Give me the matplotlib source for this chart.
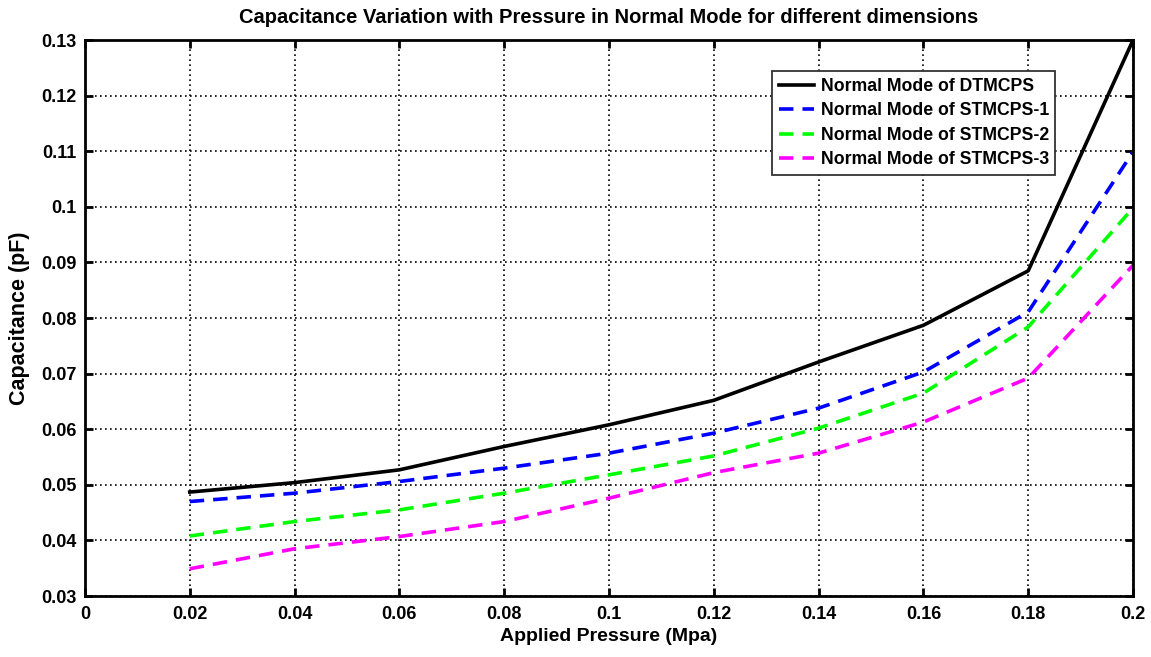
import matplotlib
matplotlib.use("Agg")
import matplotlib.pyplot as plt

plt.rcParams["font.family"] = ["Liberation Sans", "DejaVu Sans"]
plt.rcParams["font.weight"] = "bold"

pressure = [0.02, 0.04, 0.06, 0.08, 0.10, 0.12, 0.14, 0.16, 0.18, 0.20]
dtmcps = [0.0487, 0.0504, 0.0527, 0.0569, 0.0608, 0.0652, 0.0721, 0.0787, 0.0885, 0.1300]
stmcps1 = [0.0470, 0.0485, 0.0506, 0.0530, 0.0557, 0.0593, 0.0638, 0.0703, 0.0811, 0.1099]
stmcps2 = [0.0408, 0.0434, 0.0455, 0.0485, 0.0518, 0.0552, 0.0602, 0.0665, 0.0784, 0.0998]
stmcps3 = [0.0349, 0.0385, 0.0407, 0.0434, 0.0476, 0.0522, 0.0557, 0.0613, 0.0692, 0.0895]

labels = ["Normal Mode of DTMCPS", "Normal Mode of STMCPS-1",
          "Normal Mode of STMCPS-2", "Normal Mode of STMCPS-3"]

xticks = [0, 0.02, 0.04, 0.06, 0.08, 0.1, 0.12, 0.14, 0.16, 0.18, 0.2]
xticklabels = ["0", "0.02", "0.04", "0.06", "0.08", "0.1", "0.12", "0.14", "0.16", "0.18", "0.2"]
yticks = [0.03, 0.04, 0.05, 0.06, 0.07, 0.08, 0.09, 0.1, 0.11, 0.12, 0.13]
yticklabels = ["0.03", "0.04", "0.05", "0.06", "0.07", "0.08", "0.09", "0.1", "0.11", "0.12", "0.13"]

fig = plt.figure(figsize=(11.51, 6.57), dpi=100)
ax = fig.add_axes([0.0738, 0.0928, 0.9106, 0.8462])

ax.plot(pressure, dtmcps, color="black", lw=2.6, label=labels[0])
ax.plot(pressure, stmcps1, color="#0000ff", lw=2.6, ls=(0, (4, 2.5)), label=labels[1])
ax.plot(pressure, stmcps2, color="#00ff00", lw=2.6, ls=(0, (4, 2.5)), label=labels[2])
ax.plot(pressure, stmcps3, color="#ff00ff", lw=2.6, ls=(0, (4, 2.5)), label=labels[3])

ax.set_xlim(0, 0.2)
ax.set_ylim(0.03, 0.13)
ax.set_xticks(xticks)
ax.set_xticklabels(xticklabels)
ax.set_yticks(yticks)
ax.set_yticklabels(yticklabels)
ax.tick_params(direction="in", length=6, width=2, labelsize=13, top=True, right=True)
ax.tick_params(axis="x", pad=7)
ax.tick_params(axis="y", pad=6)
for s in ax.spines.values():
    s.set_linewidth(2)

ax.grid(True, color="black", ls=(0, (1, 2)), lw=1.2)

ax.set_title("Capacitance Variation with Pressure in Normal Mode for different dimensions",
             fontsize=14.5, fontweight="bold", pad=12)
ax.set_xlabel("Applied Pressure (Mpa)", fontsize=14, fontweight="bold", labelpad=4)
ax.set_ylabel("Capacitance (pF)", fontsize=15.5, fontweight="bold", labelpad=8)

leg = ax.legend(loc="upper right", bbox_to_anchor=(0.926, 0.944), fontsize=12.7,
                fancybox=False, framealpha=1, edgecolor="#333333",
                handlelength=2.0, handletextpad=0.35, borderpad=0.38, labelspacing=0.42,
                borderaxespad=0)
leg.get_frame().set_linewidth(1.3)

fig.savefig("out.png", dpi=100)
